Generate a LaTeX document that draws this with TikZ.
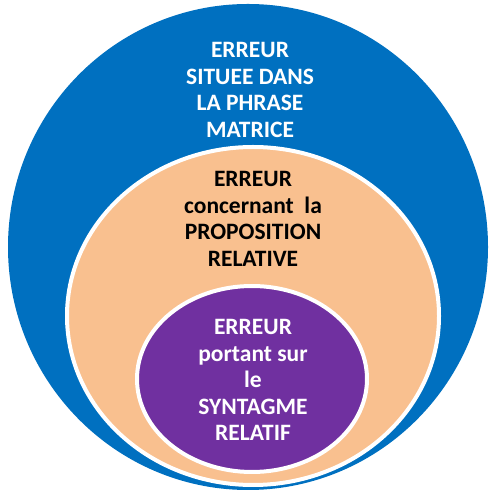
\documentclass[tikz,border=0pt]{standalone}
\usepackage{fontspec}
\setmainfont{Carlito}
\definecolor{outerblue}{HTML}{0070C0}
\definecolor{midorange}{HTML}{F9C08F}
\definecolor{innerpurple}{HTML}{7030A0}
\begin{document}
\begin{tikzpicture}[x=1pt,y=1pt,
  lbl/.style={align=center,font=\fontsize{23.5}{26.5}\selectfont\bfseries,inner sep=0pt}]
\useasboundingbox (0,0) rectangle (489,492);
\fill[outerblue] (248,245) ellipse [x radius=240,y radius=243];
\filldraw[fill=midorange,draw=white,line width=4pt] (253,176) ellipse [x radius=186,y radius=169];
\filldraw[fill=innerpurple,draw=white,line width=4pt] (252,113) ellipse [x radius=115,y radius=93];
\node[lbl,text=white] (t1) at (250,402) {ERREUR\\SITUEE DANS\\LA PHRASE\\MATRICE};
\node[lbl,text=black] (t2) at (253,273) {ERREUR\\concernant\ \ la\\PROPOSITION\\RELATIVE};
\node[lbl,text=white] (t3) at (253,112) {ERREUR\\portant sur\\le\\SYNTAGME\\RELATIF};
\end{tikzpicture}
\end{document}
